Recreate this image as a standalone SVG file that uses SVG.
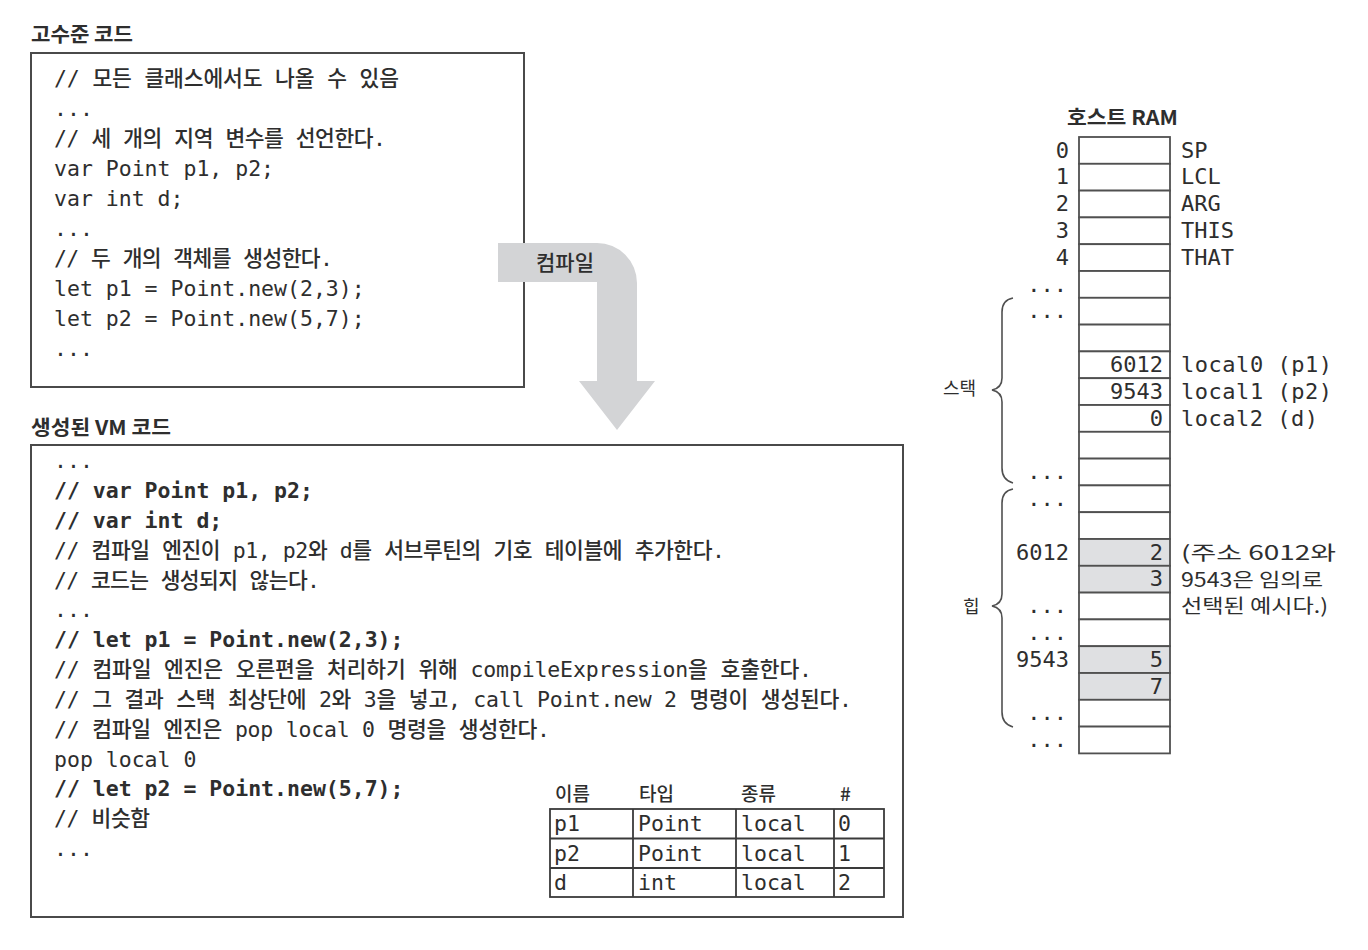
<svg xmlns="http://www.w3.org/2000/svg" width="1368" height="950" viewBox="0 0 1368 950">
<style>
.title{font-family:"Noto Sans CJK KR","Liberation Sans",sans-serif;font-weight:bold;font-size:20px;fill:#2e2e2e}
.code{font-family:"DejaVu Sans Mono","Noto Sans CJK KR",monospace;font-size:21.5px;font-weight:500;fill:#2e2e2e}
.b{font-weight:bold}
.ram{font-family:"DejaVu Sans Mono","Noto Sans CJK KR",monospace;font-size:22px;fill:#2e2e2e}
.sans{font-family:"Noto Sans CJK KR","Liberation Sans",sans-serif;fill:#2e2e2e}
.box{fill:#fff;stroke:#4a4a4a;stroke-width:2}
.cell{fill:#fff;stroke:#505050;stroke-width:1.8}
.gray{fill:#dfe0e2;stroke:#505050;stroke-width:1.8}
.brace{fill:none;stroke:#505050;stroke-width:1.6}
.tbl{fill:none;stroke:#3a3a3a;stroke-width:1.8}
</style>
<rect width="1368" height="950" fill="#fff"/>

<g id="high-level-code">
<text class="title" x="31" y="42" textLength="102" lengthAdjust="spacingAndGlyphs">고수준 코드</text>
<rect class="box" x="31" y="53" width="493" height="334"/>
<text class="code" x="54" y="86" textLength="345" lengthAdjust="spacing">// 모든 클래스에서도 나올 수 있음</text>
<text class="code" x="54" y="116">...</text>
<text class="code" x="54" y="146" textLength="332" lengthAdjust="spacing">// 세 개의 지역 변수를 선언한다.</text>
<text class="code" x="54" y="176">var Point p1, p2;</text>
<text class="code" x="54" y="206">var int d;</text>
<text class="code" x="54" y="236">...</text>
<text class="code" x="54" y="266" textLength="279" lengthAdjust="spacing">// 두 개의 객체를 생성한다.</text>
<text class="code" x="54" y="296">let p1 = Point.new(2,3);</text>
<text class="code" x="54" y="326">let p2 = Point.new(5,7);</text>
<text class="code" x="54" y="356">...</text>
</g>

<g id="connectors">
<g id="compile-arrow">
<path d="M498 243 H597 A40 40 0 0 1 637 283 V381 H655 L617 430 L579 381 H597 V282 H498 Z" fill="#d3d4d6"/>
<text class="sans" x="565" y="270" font-size="21" text-anchor="middle" font-weight="500" fill="#3a3a3a">컴파일</text>
</g>
</g>

<g id="vm-code">
<text class="title" x="31" y="435" textLength="140" lengthAdjust="spacingAndGlyphs">생성된 VM 코드</text>
<rect class="box" x="31" y="445" width="872" height="472"/>
<text class="code" x="54" y="468">...</text>
<text class="code b" x="54" y="498">// var Point p1, p2;</text>
<text class="code b" x="54" y="528">// var int d;</text>
<text class="code" x="54" y="557.5" textLength="671" lengthAdjust="spacing">// 컴파일 엔진이 p1, p2와 d를 서브루틴의 기호 테이블에 추가한다.</text>
<text class="code" x="54" y="587.5" textLength="266" lengthAdjust="spacing">// 코드는 생성되지 않는다.</text>
<text class="code" x="54" y="617">...</text>
<text class="code b" x="54" y="647">// let p1 = Point.new(2,3);</text>
<text class="code" x="54" y="677" textLength="758" lengthAdjust="spacing">// 컴파일 엔진은 오른편을 처리하기 위해 compileExpression을 호출한다.</text>
<text class="code" x="54" y="707" textLength="798" lengthAdjust="spacing">// 그 결과 스택 최상단에 2와 3을 넣고, call Point.new 2 명령이 생성된다.</text>
<text class="code" x="54" y="737" textLength="496" lengthAdjust="spacing">// 컴파일 엔진은 pop local 0 명령을 생성한다.</text>
<text class="code" x="54" y="766.5">pop local 0</text>
<text class="code b" x="54" y="796">// let p2 = Point.new(5,7);</text>
<text class="code" x="54" y="826" textLength="96" lengthAdjust="spacing">// 비슷함</text>
<text class="code" x="54" y="856">...</text>
</g>

<g id="symbol-table">
<text class="sans" x="555" y="801" font-size="19" font-weight="500" fill="#444">이름</text>
<text class="sans" x="639" y="801" font-size="19" font-weight="500" fill="#444">타입</text>
<text class="sans" x="741" y="801" font-size="19" font-weight="500" fill="#444">종류</text>
<text class="sans" x="840" y="801" font-size="19" font-weight="500" fill="#444">#</text>
<rect class="tbl" x="550" y="809" width="334" height="88"/>
<line class="tbl" x1="550" y1="838.5" x2="884" y2="838.5"/>
<line class="tbl" x1="550" y1="868" x2="884" y2="868"/>
<line class="tbl" x1="633" y1="809" x2="633" y2="897"/>
<line class="tbl" x1="736" y1="809" x2="736" y2="897"/>
<line class="tbl" x1="834" y1="809" x2="834" y2="897"/>
<text class="code" x="554" y="831">p1</text>
<text class="code" x="638" y="831">Point</text>
<text class="code" x="741" y="831">local</text>
<text class="code" x="838" y="831">0</text>
<text class="code" x="554" y="860.5">p2</text>
<text class="code" x="638" y="860.5">Point</text>
<text class="code" x="741" y="860.5">local</text>
<text class="code" x="838" y="860.5">1</text>
<text class="code" x="554" y="890">d</text>
<text class="code" x="638" y="890">int</text>
<text class="code" x="741" y="890">local</text>
<text class="code" x="838" y="890">2</text>
</g>

<g id="host-ram">
<text class="title" x="1067" y="125" textLength="111" lengthAdjust="spacingAndGlyphs">호스트 RAM</text>
<g id="ram-cells">
<rect class="cell" x="1079" y="137" width="91" height="26.8"/>
<rect class="cell" x="1079" y="163.8" width="91" height="26.8"/>
<rect class="cell" x="1079" y="190.6" width="91" height="26.8"/>
<rect class="cell" x="1079" y="217.4" width="91" height="26.8"/>
<rect class="cell" x="1079" y="244.2" width="91" height="26.8"/>
<rect class="cell" x="1079" y="271" width="91" height="26.8"/>
<rect class="cell" x="1079" y="297.8" width="91" height="26.8"/>
<rect class="cell" x="1079" y="324.6" width="91" height="26.8"/>
<rect class="cell" x="1079" y="351.4" width="91" height="26.8"/>
<rect class="cell" x="1079" y="378.2" width="91" height="26.8"/>
<rect class="cell" x="1079" y="405" width="91" height="26.8"/>
<rect class="cell" x="1079" y="431.8" width="91" height="26.8"/>
<rect class="cell" x="1079" y="458.6" width="91" height="26.8"/>
<rect class="cell" x="1079" y="485.4" width="91" height="26.8"/>
<rect class="cell" x="1079" y="512.2" width="91" height="26.8"/>
<rect class="gray" x="1079" y="539" width="91" height="26.8"/>
<rect class="gray" x="1079" y="565.8" width="91" height="26.8"/>
<rect class="cell" x="1079" y="592.6" width="91" height="26.8"/>
<rect class="cell" x="1079" y="619.4" width="91" height="26.8"/>
<rect class="gray" x="1079" y="646.2" width="91" height="26.8"/>
<rect class="gray" x="1079" y="673" width="91" height="26.8"/>
<rect class="cell" x="1079" y="699.8" width="91" height="26.8"/>
<rect class="cell" x="1079" y="726.6" width="91" height="26.8"/>
</g>
<g id="ram-values" class="ram" text-anchor="end">
<text x="1163" y="371.9">6012</text>
<text x="1163" y="398.7">9543</text>
<text x="1163" y="425.5">0</text>
<text x="1163" y="559.5">2</text>
<text x="1163" y="586.3">3</text>
<text x="1163" y="666.7">5</text>
<text x="1163" y="693.5">7</text>
</g>
<g id="ram-addresses" class="ram" text-anchor="end">
<text x="1069" y="157.5">0</text>
<text x="1069" y="184.3">1</text>
<text x="1069" y="211.1">2</text>
<text x="1069" y="237.9">3</text>
<text x="1069" y="264.7">4</text>
<text x="1067" y="291.5">...</text>
<text x="1067" y="318.3">...</text>
<text x="1067" y="479.1">...</text>
<text x="1067" y="505.9">...</text>
<text x="1069" y="559.5">6012</text>
<text x="1067" y="613.1">...</text>
<text x="1067" y="639.9">...</text>
<text x="1069" y="666.7">9543</text>
<text x="1067" y="720.3">...</text>
<text x="1067" y="747.1">...</text>
</g>
<g id="ram-names" class="ram">
<text x="1181" y="157.5">SP</text>
<text x="1181" y="184.3">LCL</text>
<text x="1181" y="211.1">ARG</text>
<text x="1181" y="237.9">THIS</text>
<text x="1181" y="264.7">THAT</text>
<text x="1181" y="371.9" textLength="151" lengthAdjust="spacing">local0 (p1)</text>
<text x="1181" y="398.7" textLength="151" lengthAdjust="spacing">local1 (p2)</text>
<text x="1181" y="425.5" textLength="137" lengthAdjust="spacing">local2 (d)</text>
</g>
<g id="note" class="sans" font-size="19.5">
<text x="1181" y="560" textLength="155" lengthAdjust="spacingAndGlyphs">(주소 6012와</text>
<text x="1181" y="587" textLength="142" lengthAdjust="spacingAndGlyphs">9543은 임의로</text>
<text x="1181" y="613" textLength="147" lengthAdjust="spacingAndGlyphs">선택된 예시다.)</text>
</g>
</g>

<g id="stack-brace">
<path class="brace" d="M1013 298 Q1002 300 1002 312 V378 Q1002 388 992 390 Q1002 392 1002 402 V468 Q1002 480 1013 483"/>
<text class="sans" x="943" y="395" font-size="18">스택</text>
</g>
<g id="heap-brace">
<path class="brace" d="M1013 489 Q1002 491 1002 503 V594 Q1002 604 992 606 Q1002 608 1002 618 V712 Q1002 724 1013 727"/>
<text class="sans" x="963" y="613" font-size="18">힙</text>
</g>
</svg>
